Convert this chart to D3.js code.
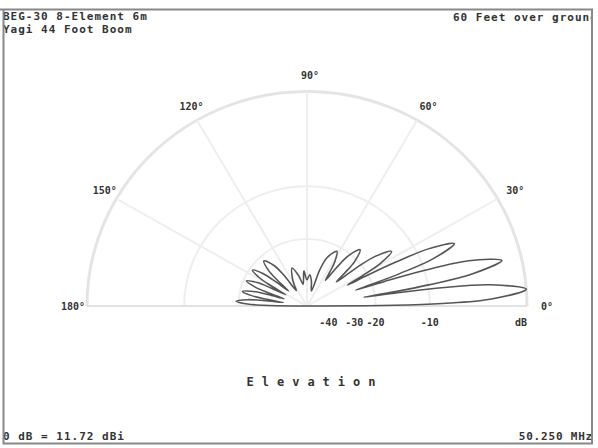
<!DOCTYPE html>
<html>
<head>
<meta charset="utf-8">
<script src="https://cdn.jsdelivr.net/npm/d3@7"></script>
<style>
  html, body { margin: 0; padding: 0; background: #fff; }
  svg { display: block; }
  .mono { font-family: "DejaVu Sans Mono", monospace; font-weight: bold; fill: #333; }
</style>
</head>
<body>
<div id="chart"></div>
<script>
// Elevation pattern (degrees above horizon, dB relative to peak)
const elevDeg = [0, 0.45, 1.1, 2.25, 4.5, 6.75, 7.9, 8.55, 9, 9.45, 10.1, 11.25, 13.5, 16, 17.25, 18, 18.5,
  19, 19.75, 21, 23.5, 25.75, 26.9, 27.55, 28, 29.4, 30.75, 33.5, 36.75, 38.4, 40, 41.9, 43.75, 47.5,
  51.25, 53.1, 55, 56.75, 58.5, 62, 68, 71, 74, 80, 85, 90, 95, 100, 105, 111, 117, 121, 124, 126.25,
  128.5, 133, 136.5, 138.25, 140, 141.5, 143, 146, 148.75, 150.1, 151.5, 152.9, 154.25, 157, 159.5,
  160.75, 162, 163.25, 164.5, 167, 169.25, 170.4, 171.5, 172.6, 173.75, 176, 178, 179, 180];
const gainDb = [-60, -16, -8.3, -3, 0, -3, -8.3, -15, -23, -16.5, -9.9, -4.6, -1.6, -4.6, -9.9, -17, -25,
  -19.5, -13.7, -8.4, -5.4, -8.4, -13.7, -20, -27, -21, -16.3, -13.3, -16.3, -21.6, -30, -25, -20.7, -17.7,
  -20.7, -26, -33, -28.5, -24.3, -21.3, -24.3, -29.6, -45, -37, -33, -36, -31, -39, -33, -28.5, -33, -38, -42, -29.7,
  -24.4, -21.4, -24.4, -29.7, -38, -29, -23.7, -20.7, -23.7, -29, -38, -29, -23.7, -20.7, -23.7,
  -29, -38, -28.9, -23.6, -20.6, -23.6, -28.9, -38, -27.7, -22.4, -19.4, -22.4, -27.7, -60];

const angleTicks = [0, 30, 60, 90, 120, 150, 180];
const gridDb = [0, -10, -20];
const dbTicks = [-40, -30, -20, -10, 0];
const dbTickLabels = ["-40", "-30", "-20", "-10", "dB"];

const titleLeft = ["BEG-30 8-Element 6m", "Yagi 44 Foot Boom"];
const titleRight = "60 Feet over ground";
const footLeft = "0 dB = 11.72 dBi";
const footRight = "50.250 MHz";
const axisTitle = "Elevation";

const width = 598, height = 448;
const cx = 307, cy = 306, R = 220, squash = 0.975;

const svg = d3.select("#chart").append("svg")
  .attr("width", width)
  .attr("height", height);

// ARRL log scale: every 2 dB down shrinks the radius by 0.89
const rScale = d3.scalePow()
  .exponent(-Math.log10(0.89) * 5)
  .domain([0, 1])
  .range([0, R]);
const r = db => rScale(Math.pow(10, db / 10));
const rad = deg => deg * Math.PI / 180;

const plot = svg.append("g")
  .attr("transform", `translate(${cx},${cy}) scale(1,${squash})`);

// grid arcs
gridDb.forEach(db => {
  const p = d3.path();
  p.arc(0, 0, r(db), Math.PI, 2 * Math.PI);
  plot.append("path")
    .attr("d", p.toString())
    .attr("fill", "none")
    .attr("stroke", db === 0 ? "#e4e4e4" : "#eeeeee")
    .attr("stroke-width", db === 0 ? 3 : 2);
});

// spokes
plot.selectAll(".spoke")
  .data(angleTicks)
  .enter().append("line")
  .attr("class", "spoke")
  .attr("x1", 0).attr("y1", 0)
  .attr("x2", d => R * Math.cos(rad(d)))
  .attr("y2", d => -R * Math.sin(rad(d)))
  .attr("stroke", d => (d === 0 || d === 180) ? "#e2e2e2" : "#eeeeee")
  .attr("stroke-width", 2);

// pattern
const pts = elevDeg.map((a, i) => [r(gainDb[i]) * Math.cos(rad(a)), -r(gainDb[i]) * Math.sin(rad(a))]);
plot.append("path")
  .attr("d", d3.line().curve(d3.curveCatmullRomClosed.alpha(0.5))(pts))
  .attr("fill", "none")
  .attr("stroke", "#555")
  .attr("stroke-width", 1.6)
  .attr("stroke-linejoin", "round");

// angle labels
svg.selectAll(".alabel")
  .data(angleTicks)
  .enter().append("text")
  .attr("class", "mono")
  .attr("font-size", 10)
  .attr("text-anchor", "middle")
  .attr("x", d => cx + 237 * Math.cos(rad(d)) + 3)
  .attr("y", d => cy - 237 * squash * Math.sin(rad(d)) + 4)
  .text(d => d + "°");

// dB labels under the axis
svg.selectAll(".dblabel")
  .data(dbTicks)
  .enter().append("text")
  .attr("class", "mono")
  .attr("font-size", 10)
  .attr("text-anchor", (d, i) => i === 1 ? "start" : (i === dbTicks.length - 1 ? "end" : "middle"))
  .attr("x", d => cx + r(d))
  .attr("y", 326)
  .text((d, i) => dbTickLabels[i]);

// axis title
svg.append("text")
  .attr("class", "mono")
  .attr("font-size", 12)
  .attr("text-anchor", "middle")
  .attr("letter-spacing", 8)
  .attr("x", 315)
  .attr("y", 386)
  .text(axisTitle);

// header / footer text
svg.append("defs").append("clipPath").attr("id", "frameClip")
  .append("rect").attr("x", 0).attr("y", 0).attr("width", 592).attr("height", height);

const info = svg.append("g").attr("clip-path", "url(#frameClip)");
titleLeft.forEach((t, i) => {
  info.append("text").attr("class", "mono")
    .attr("font-size", 11).attr("letter-spacing", 1)
    .attr("x", 3).attr("y", 20 + i * 13)
    .text(t);
});
info.append("text").attr("class", "mono")
  .attr("font-size", 11).attr("letter-spacing", 1)
  .attr("x", 453).attr("y", 21)
  .text(titleRight);
info.append("text").attr("class", "mono")
  .attr("font-size", 11).attr("letter-spacing", 1)
  .attr("x", 3).attr("y", 440)
  .text(footLeft);
info.append("text").attr("class", "mono")
  .attr("font-size", 11).attr("letter-spacing", 0.8)
  .attr("text-anchor", "end")
  .attr("x", 593).attr("y", 440)
  .text(footRight);

// frame
svg.append("path")
  .attr("d", "M0,9.5H592V443.5H3.5V9.5")
  .attr("fill", "none")
  .attr("stroke", "#888")
  .attr("stroke-width", 2);
</script>
</body>
</html>
